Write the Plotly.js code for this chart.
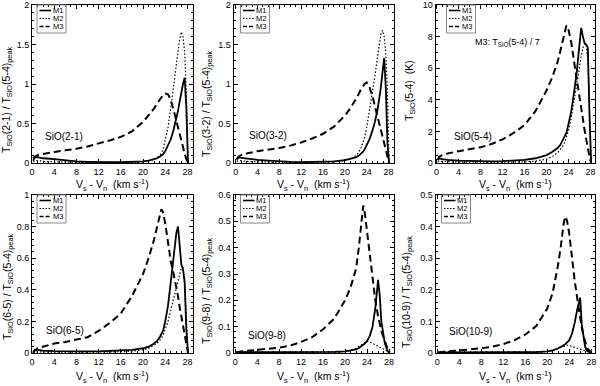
<!DOCTYPE html>
<html>
<head>
<meta charset="utf-8">
<script src="https://cdn.plot.ly/plotly-3.0.1.min.js"></script>
<style>html,body{margin:0;padding:0;background:#fff;}#chart{width:600px;height:386px;}</style>
</head>
<body>
<div id="chart"></div>
<script>
// velocity grid (km/s), V_s - V_n
const V = [0.2, 0.5, 1, 2, 4, 6, 8, 10, 12, 14, 16, 18, 20, 21, 22, 22.5, 23, 23.3, 23.6, 24, 24.5, 25, 25.5, 26, 26.3, 26.6, 26.9, 27.2, 27.5, 27.8, 28.1];

// SiO(2-1)
const P1_M1 = [0.03, 0.07, 0.075, 0.06, 0.05, 0.035, 0.02, 0.015, 0.01, 0.01, 0.01, 0.012, 0.02, 0.03, 0.045, 0.06, 0.08, 0.095, 0.11, 0.15, 0.22, 0.3, 0.42, 0.55, 0.66, 0.78, 0.9, 1.0, 1.08, 0.7, 0];
const P1_M2 = [0.02, 0.03, 0.03, 0.02, 0.015, 0.01, 0.008, 0.006, 0.005, 0.005, 0.006, 0.008, 0.015, 0.025, 0.04, 0.06, 0.09, 0.12, 0.17, 0.28, 0.45, 0.7, 0.98, 1.25, 1.42, 1.57, 1.66, 1.6, 1.4, 0.9, 0];
const P1_M3 = [0.06, 0.08, 0.1, 0.115, 0.14, 0.16, 0.18, 0.21, 0.245, 0.285, 0.33, 0.4, 0.52, 0.6, 0.69, 0.75, 0.8, 0.83, 0.86, 0.88, 0.87, 0.8, 0.68, 0.54, 0.45, 0.36, 0.27, 0.19, 0.12, 0.05, 0];
// SiO(3-2)
const P2_M1 = [0.04, 0.07, 0.065, 0.055, 0.04, 0.03, 0.02, 0.015, 0.012, 0.012, 0.015, 0.02, 0.035, 0.05, 0.07, 0.09, 0.12, 0.14, 0.17, 0.22, 0.3, 0.4, 0.52, 0.68, 0.8, 0.96, 1.15, 1.33, 0.95, 0.25, 0];
const P2_M2 = [0.02, 0.03, 0.03, 0.02, 0.015, 0.01, 0.008, 0.007, 0.007, 0.008, 0.01, 0.015, 0.03, 0.05, 0.09, 0.13, 0.2, 0.25, 0.32, 0.45, 0.65, 0.88, 1.1, 1.35, 1.5, 1.63, 1.68, 1.6, 1.4, 0.9, 0];
const P2_M3 = [0.05, 0.08, 0.1, 0.12, 0.15, 0.17, 0.19, 0.22, 0.26, 0.31, 0.37, 0.46, 0.6, 0.69, 0.8, 0.87, 0.94, 0.97, 1.0, 1.02, 0.96, 0.86, 0.72, 0.58, 0.49, 0.4, 0.31, 0.22, 0.13, 0.05, 0];
// SiO(5-4)
const P3_M1 = [0.2, 0.3, 0.25, 0.2, 0.15, 0.12, 0.1, 0.1, 0.12, 0.15, 0.2, 0.3, 0.5, 0.7, 0.95, 1.15, 1.45, 1.65, 1.9, 2.5, 3.3, 4.5, 5.8, 7.6, 8.55, 8.0, 7.6, 7.5, 7.3, 3.0, 0];
const P3_M2 = [0.1, 0.12, 0.1, 0.08, 0.06, 0.05, 0.04, 0.04, 0.04, 0.05, 0.07, 0.12, 0.25, 0.4, 0.65, 0.85, 1.1, 1.3, 1.6, 2.1, 2.9, 3.9, 5.0, 6.1, 6.8, 7.3, 7.55, 7.5, 6.5, 3.5, 0];
const P3_M3 = [0.2, 0.4, 0.5, 0.6, 0.75, 0.88, 1.0, 1.2, 1.5, 1.9, 2.4, 3.3, 4.6, 5.4, 6.4, 7.1, 7.9, 8.4, 8.7, 8.4, 7.6, 6.4, 5.2, 4.0, 3.3, 2.7, 2.1, 1.5, 0.9, 0.4, 0];
// SiO(6-5)
const P4_M1 = [0.005, 0.02, 0.02, 0.015, 0.012, 0.01, 0.01, 0.01, 0.01, 0.012, 0.015, 0.02, 0.03, 0.04, 0.06, 0.075, 0.1, 0.12, 0.14, 0.2, 0.3, 0.45, 0.62, 0.76, 0.8, 0.68, 0.56, 0.53, 0.45, 0.15, 0];
const P4_M2 = [0.005, 0.008, 0.008, 0.006, 0.005, 0.005, 0.005, 0.005, 0.005, 0.006, 0.008, 0.012, 0.02, 0.03, 0.05, 0.06, 0.08, 0.095, 0.11, 0.15, 0.2, 0.27, 0.34, 0.41, 0.46, 0.5, 0.54, 0.54, 0.42, 0.2, 0];
const P4_M3 = [0, 0.015, 0.03, 0.04, 0.06, 0.07, 0.085, 0.1, 0.14, 0.19, 0.25, 0.36, 0.5, 0.6, 0.72, 0.8, 0.88, 0.91, 0.89, 0.82, 0.7, 0.58, 0.5, 0.42, 0.36, 0.29, 0.23, 0.17, 0.11, 0.05, 0];
// SiO(9-8)
const P5_M1 = [0.002, 0.003, 0.003, 0.003, 0.003, 0.003, 0.003, 0.003, 0.003, 0.003, 0.003, 0.004, 0.006, 0.009, 0.014, 0.019, 0.026, 0.031, 0.036, 0.046, 0.065, 0.1, 0.17, 0.278, 0.22, 0.12, 0.07, 0.04, 0.02, 0.006, 0];
const P5_M2 = [0.002, 0.002, 0.002, 0.002, 0.002, 0.002, 0.002, 0.002, 0.002, 0.002, 0.003, 0.004, 0.006, 0.01, 0.018, 0.025, 0.033, 0.037, 0.041, 0.044, 0.042, 0.036, 0.03, 0.025, 0.022, 0.019, 0.016, 0.013, 0.009, 0.005, 0];
const P5_M3 = [0.002, 0.004, 0.006, 0.008, 0.012, 0.015, 0.02, 0.028, 0.042, 0.06, 0.09, 0.13, 0.2, 0.25, 0.32, 0.4, 0.5, 0.56, 0.53, 0.46, 0.36, 0.28, 0.2, 0.14, 0.11, 0.085, 0.065, 0.045, 0.03, 0.015, 0.002];
// SiO(10-9)
const P6_M1 = [0.001, 0.002, 0.002, 0.002, 0.002, 0.002, 0.002, 0.002, 0.002, 0.002, 0.002, 0.003, 0.005, 0.008, 0.015, 0.019, 0.024, 0.028, 0.032, 0.04, 0.06, 0.095, 0.14, 0.175, 0.09, 0.045, 0.02, 0.008, 0.003, 0.001, 0];
const P6_M2 = [0.001, 0.001, 0.001, 0.001, 0.001, 0.001, 0.001, 0.001, 0.001, 0.001, 0.002, 0.003, 0.005, 0.008, 0.014, 0.018, 0.022, 0.024, 0.025, 0.024, 0.021, 0.018, 0.015, 0.012, 0.01, 0.009, 0.007, 0.005, 0.003, 0.001, 0];
const P6_M3 = [0.002, 0.003, 0.004, 0.006, 0.008, 0.011, 0.015, 0.02, 0.028, 0.04, 0.058, 0.085, 0.14, 0.19, 0.28, 0.34, 0.41, 0.432, 0.42, 0.38, 0.3, 0.23, 0.17, 0.11, 0.08, 0.055, 0.035, 0.02, 0.01, 0.004, 0];

const SERIES = ['M1', 'M2', 'M3'];
const LABELS = ['SiO(2-1)', 'SiO(3-2)', 'SiO(5-4)', 'SiO(6-5)', 'SiO(9-8)', 'SiO(10-9)'];
const YTITLES = [
  'T<sub>SiO</sub>(2-1) / T<sub>SiO</sub>(5-4)<sub>peak</sub>',
  'T<sub>SiO</sub>(3-2) / T<sub>SiO</sub>(5-4)<sub>peak</sub>',
  'T<sub>SiO</sub>(5-4)  (K)',
  'T<sub>SiO</sub>(6-5) / T<sub>SiO</sub>(5-4)<sub>peak</sub>',
  'T<sub>SiO</sub>(9-8) / T<sub>SiO</sub>(5-4)<sub>peak</sub>',
  'T<sub>SiO</sub>(10-9) / T<sub>SiO</sub>(5-4)<sub>peak</sub>'
];
const XTITLE = 'V<sub>s</sub> - V<sub>n</sub>  (km s<sup>-1</sup>)';
const YRANGES = [[0, 2], [0, 2], [0, 10], [0, 1], [0, 0.6], [0, 0.5]];
const YDTICK = [0.5, 0.5, 2, 0.2, 0.1, 0.1];
const YMINOR = [0.1, 0.1, 0.5, 0.04, 0.02, 0.02];
const XRANGES = [[0, 29], [-0.4, 29], [-0.2, 28.8], [0, 29], [-0.3, 28.9], [-0.3, 28.7]];

const DATA = [
  [P1_M1, P1_M2, P1_M3], [P2_M1, P2_M2, P2_M3], [P3_M1, P3_M2, P3_M3],
  [P4_M1, P4_M2, P4_M3], [P5_M1, P5_M2, P5_M3], [P6_M1, P6_M2, P6_M3]
];

// layout geometry (pixels)
const W = 600, H = 386;
const COLS = [[32, 193], [233.5, 394], [435.5, 595]];
const ROWS = [[5, 163], [195, 353]];
const LINE_STYLES = [
  {color: '#000', width: 1.8, dash: 'solid'},
  {color: '#000', width: 1.2, dash: '1.5px,2px'},
  {color: '#000', width: 2, dash: '7px,4px'}
];
const FONT = 'Liberation Sans, Arial, Helvetica, sans-serif';

const traces = [];
const layout = {
  width: W, height: H,
  margin: {l: 0, r: 0, t: 0, b: 0},
  paper_bgcolor: '#fff', plot_bgcolor: '#fff',
  showlegend: false,
  font: {family: FONT, size: 9, color: '#000'},
  shapes: [], annotations: []
};

const legendOffset = [5, 7, 11, 5, 7, 6];
const labelPos = [[43, 137], [246.7, 136], [451.7, 136.7], [44.3, 330], [245.7, 335.7], [446.7, 331.7]];
const ytitlePos = [[7, 100], [207, 103], [410, 91], [8, 287], [207, 290], [407, 292]];

for (let p = 0; p < 6; p++) {
  const col = p % 3, row = Math.floor(p / 3);
  const suf = p === 0 ? '' : String(p + 1);
  const [x0, x1] = COLS[col];
  const [y0, y1] = ROWS[row];
  const xa = {
    domain: [x0 / W, x1 / W], anchor: 'y' + suf, range: XRANGES[p],
    tickmode: 'linear', tick0: 0, dtick: 4,
    ticks: 'inside', ticklen: 4, tickwidth: 1, tickcolor: '#000',
    minor: {ticks: 'inside', ticklen: 2, tickwidth: 1, dtick: 1, tick0: 0, tickcolor: '#000'},
    showline: true, linecolor: '#000', linewidth: 1, mirror: 'ticks',
    showgrid: false, zeroline: false,
    tickfont: {family: FONT, size: 9, color: '#000'}
  };
  const ya = {
    domain: [1 - y1 / H, 1 - y0 / H], anchor: 'x' + suf, range: YRANGES[p],
    tickmode: 'linear', tick0: 0, dtick: YDTICK[p],
    ticks: 'inside', ticklen: 4, tickwidth: 1, tickcolor: '#000',
    minor: {ticks: 'inside', ticklen: 2, tickwidth: 1, dtick: YMINOR[p], tick0: 0, tickcolor: '#000'},
    showline: true, linecolor: '#000', linewidth: 1, mirror: 'ticks',
    showgrid: false, zeroline: false,
    tickfont: {family: FONT, size: 9, color: '#000'}
  };
  layout['xaxis' + suf] = xa;
  layout['yaxis' + suf] = ya;

  for (let s = 0; s < 3; s++) {
    traces.push({
      type: 'scatter', mode: 'lines', x: V, y: DATA[p][s], name: SERIES[s],
      xaxis: 'x' + suf, yaxis: 'y' + suf,
      line: Object.assign({}, LINE_STYLES[s]), hoverinfo: 'skip', cliponaxis: true
    });
  }

  // legend box
  const pw = x1 - x0, ph = y1 - y0;
  const bl = legendOffset[p], bw = 29, bh = 28;
  const xr = 'x' + suf + ' domain', yr = 'y' + suf + ' domain';
  layout.shapes.push({type: 'rect', xref: xr, yref: yr,
    x0: bl / pw, x1: (bl + bw) / pw, y0: 1 - bh / ph, y1: 1,
    line: {color: '#888', width: 1}, fillcolor: 'rgba(255,255,255,0)', layer: 'above'});
  const rowsY = [5.5, 13.5, 21.5];
  for (let s = 0; s < 3; s++) {
    layout.shapes.push({type: 'line', xref: xr, yref: yr,
      x0: (bl + 2.5) / pw, x1: (bl + 14) / pw,
      y0: 1 - rowsY[s] / ph, y1: 1 - rowsY[s] / ph,
      line: {color: '#000', width: s === 1 ? 1.2 : 1.6, dash: s === 0 ? 'solid' : (s === 1 ? '1.5px,1.5px' : '4px,2px')}});
    layout.annotations.push({xref: xr, yref: yr, x: (bl + 14.5) / pw, y: 1 - rowsY[s] / ph,
      text: SERIES[s], showarrow: false, xanchor: 'left', yanchor: 'middle', borderpad: 0,
      font: {family: FONT, size: 7.5, color: '#000'}});
  }

  // line label
  layout.annotations.push({xref: 'paper', yref: 'paper', x: labelPos[p][0] / W, y: 1 - labelPos[p][1] / H,
    text: LABELS[p], showarrow: false, xanchor: 'left', yanchor: 'middle',
    font: {family: FONT, size: 10, color: '#000'}});

  // y title
  layout.annotations.push({xref: 'paper', yref: 'paper', x: ytitlePos[p][0] / W, y: 1 - ytitlePos[p][1] / H,
    text: YTITLES[p], showarrow: false, textangle: -90, xanchor: 'center', yanchor: 'middle',
    font: {family: FONT, size: 10.5, color: '#000'}});

  // x title
  layout.annotations.push({xref: 'paper', yref: 'paper', x: ((x0 + x1) / 2) / W, y: 1 - (row === 0 ? 185 : 377) / H,
    text: XTITLE, showarrow: false, xanchor: 'center', yanchor: 'middle',
    font: {family: FONT, size: 10.5, color: '#000'}});
}

// note on SiO(5-4) panel
layout.annotations.push({xref: 'paper', yref: 'paper', x: 472.7 / W, y: 1 - 43 / H,
  text: 'M3: T<sub>SiO</sub>(5-4) / 7', showarrow: false, xanchor: 'left', yanchor: 'middle',
  font: {family: FONT, size: 9, color: '#000'}});

Plotly.newPlot('chart', traces, layout, {staticPlot: true, displayModeBar: false});
</script>
</body>
</html>
